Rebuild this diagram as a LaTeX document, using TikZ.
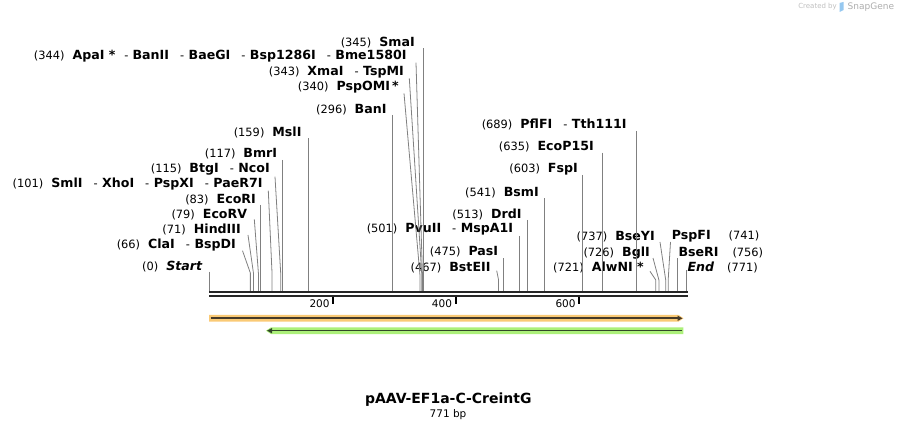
\documentclass[tikz,border=0pt]{standalone}
\usepackage{fontspec}
\setmainfont{DejaVu Sans}
\usetikzlibrary{arrows.meta}
\definecolor{siteg}{RGB}{128,128,128}
\definecolor{orgL}{RGB}{250,202,118}
\definecolor{orgD}{RGB}{70,58,40}
\definecolor{grnL}{RGB}{172,240,122}
\definecolor{grnD}{RGB}{50,72,40}
\definecolor{sgblue}{RGB}{150,200,240}
\newcommand\nm[1]{{\fontsize{12.6}{14}\selectfont\bfseries #1}}
\newcommand\nmi[1]{{\fontsize{12.6}{14}\selectfont\bfseries\itshape #1}}
\newcommand\gp{\hspace{8pt}}
\newcommand\ds{\hspace{11pt}-\hspace{4.5pt}}
\newcommand\bx[1]{209.5+0.619*#1}
\newcommand\vsite[3]{%
  \coordinate (s#1) at ({\bx{#2}},291);
  \coordinate (t#1) at ([yshift=-#3pt]#1.east);
  \draw[site] (t#1 -| s#1) -- (s#1);}
\newcommand\vsiteR[3]{%
  \coordinate (s#1) at ({\bx{#2}},291);
  \coordinate (t#1) at ([yshift=-#3pt]#1.west);
  \draw[site] (t#1 -| s#1) -- (s#1);}
\newcommand\ssite[5]{%
  \coordinate (s#1) at ({\bx{#2}},291);
  \coordinate (k#1) at ({\bx{#2}},#5);
  \coordinate (t#1) at ([shift={(#3pt,-#4pt)}]#1.east);
  \draw[site] (t#1) -- (k#1) -- (s#1);}
\newcommand\ssiteR[5]{%
  \coordinate (s#1) at ({\bx{#2}},291);
  \coordinate (k#1) at ({\bx{#2}},#5);
  \coordinate (t#1) at ([shift={(#3pt,-#4pt)}]#1.west);
  \draw[site] (t#1) -- (k#1) -- (s#1);}
\begin{document}
\begin{tikzpicture}[x=1pt,y=-1pt,
  lbl/.style={inner sep=0pt, font=\fontsize{11.4}{13}\selectfont, text=black},
  lblE/.style={lbl, anchor=east},
  lblW/.style={lbl, anchor=west},
  site/.style={draw=siteg, line width=0.8pt},
  bb/.style={draw=black!85, line width=2.4pt},
  tick/.style={draw=black, line width=2pt},
  ticklbl/.style={inner sep=0pt, anchor=east, font=\fontsize{10.5}{12}\selectfont}]
\useasboundingbox (0,0) rectangle (897,430);

% watermark
\node[inner sep=0pt, anchor=east, text=black!25, font=\fontsize{7}{8}\selectfont] (cb) at (837,7) {Created by};
\fill[sgblue] (839.5,3) -- (843.5,2) -- (843.5,10) -- (839.5,12) -- cycle;
\node[inner sep=0pt, anchor=west, text=black!32, font=\fontsize{9}{10}\selectfont] (sg) at (847.5,7) {SnapGene};

% left cluster
\node[lblE] (L0)   at (202.3,266.7) {(0)\gp\nmi{Start}};
\node[lblE] (L66)  at (236,245)     {(66)\gp\nm{ClaI}\ds\nm{BspDI}};
\node[lblE] (L71)  at (241,229)     {(71)\gp\nm{HindIII}};
\node[lblE] (L79)  at (247.3,214.3) {(79)\gp\nm{EcoRV}};
\node[lblE] (L83)  at (256,199.3)   {(83)\gp\nm{EcoRI}};
\node[lblE] (L101) at (262.7,184)   {(101)\gp\nm{SmlI}\ds\nm{XhoI}\ds\nm{PspXI}\ds\nm{PaeR7I}};
\node[lblE] (L115) at (270,169.3)   {(115)\gp\nm{BtgI}\ds\nm{NcoI}};
\node[lblE] (L117) at (277.3,153.3) {(117)\gp\nm{BmrI}};
\node[lblE] (L159) at (301.7,132.7) {(159)\gp\nm{MslI}};

% middle cluster
\node[lblE] (L296) at (386.7,109.3) {(296)\gp\nm{BanI}};
\node[lblE] (L340) at (399,87.3)    {(340)\gp\nm{PspOMI\,*}};
\node[lblE] (L343) at (404,72.3)    {(343)\gp\nm{XmaI}\ds\nm{TspMI}};
\node[lblE] (L344) at (406.7,56)    {(344)\gp\nm{ApaI *}\hspace{9pt}-\hspace{4pt}\nm{BanII}\ds\nm{BaeGI}\ds\nm{Bsp1286I}\ds\nm{Bme1580I}};
\node[lblE] (L345) at (415,42.3)    {(345)\gp\nm{SmaI}};

% right cluster
\node[lblE] (L467) at (490.7,267.3) {(467)\gp\nm{BstEII}};
\node[lblE] (L475) at (498.3,251.7) {(475)\gp\nm{PasI}};
\node[lblE] (L501) at (513.3,229.3) {(501)\gp\nm{PvuII}\ds\nm{MspA1I}};
\node[lblE] (L513) at (521.7,214)   {(513)\gp\nm{DrdI}};
\node[lblE] (L541) at (539,192.3)   {(541)\gp\nm{BsmI}};
\node[lblE] (L603) at (578,169)     {(603)\gp\nm{FspI}};
\node[lblE] (L635) at (594,146.7)   {(635)\gp\nm{EcoP15I}};
\node[lblE] (L689) at (626.7,124)   {(689)\gp\nm{PflFI}\ds\nm{Tth111I}};
\node[lblE] (L721) at (644,267.7)   {(721)\gp\nm{AlwNI *}};
\node[lblE] (L726) at (650,252.7)   {(726)\gp\nm{BglI}};
\node[lblE] (L737) at (655,236.7)   {(737)\gp\nm{BseYI}};
\node[lblW] (R741) at (671.7,236.7) {\nm{PspFI}\hspace{18pt}(741)};
\node[lblW] (R756) at (678.3,252.7) {\nm{BseRI}\hspace{14pt}(756)};
\node[lblW] (R771) at (687.3,267.7) {\nmi{End}\hspace{13pt}(771)};

% site lines
\vsite{L0}{0}{5}
\ssite{L66}{66}{6.5}{5.7}{273}
\ssite{L71}{71}{7}{6}{273}
\ssite{L79}{79}{7}{5}{273}
\vsite{L83}{83}{5.7}
\ssite{L101}{101}{5.6}{6.7}{273}
\ssite{L115}{115}{5}{7.4}{273}
\vsite{L117}{117}{6.7}
\vsite{L159}{159}{5.6}
\vsite{L296}{296}{5.7}
\ssite{L340}{340}{5}{6}{275}
\ssite{L343}{343}{5.3}{6}{275}
\ssite{L344}{344}{9.3}{6.7}{275}
\vsite{L345}{345}{6}
\ssite{L467}{467}{6}{3.4}{280}
\vsite{L475}{475}{6.6}
\vsite{L501}{501}{6.7}
\vsite{L513}{513}{6}
\vsite{L541}{541}{6}
\vsite{L603}{603}{6}
\vsite{L635}{635}{6}
\vsite{L689}{689}{7}
\ssite{L721}{721}{6}{3.6}{280}
\ssite{L726}{726}{3}{5.3}{280}
\ssite{L737}{737}{5}{5.3}{280}
\ssiteR{R741}{741}{-1.2}{5.3}{280}
\vsiteR{R756}{756}{5.6}
\vsiteR{R771}{771}{2.5}

% backbone
\coordinate (b0) at (209,292.2);
\coordinate (b1) at (687.5,292.2);
\coordinate (c0) at (209,296.2);
\coordinate (c1) at (687.5,296.2);
\draw[bb] (b0) -- (b1);
\draw[bb] (c0) -- (c1);

% ticks
\foreach \tx/\tl in {333.3/200,455.7/400,579.3/600}{
  \draw[tick] (\tx,297) -- (\tx,304.3);
  \node[ticklbl] (tk\tl) at (\tx-3.5,303.8) {\tl};
}

% features
\coordinate (f1a) at (209,318.3);
\coordinate (f1b) at (683.5,318.3);
\fill[orgL] (f1a) ++(0,-3.4) -- (678.5,314.9) -- (683.5,318.3) -- (678.5,321.7) -- (209,321.7) -- cycle;
\draw[orgD, line width=1.6pt, -{Triangle[length=5pt,width=5pt]}] (210.5,318.3) -- (682.5,318.3);

\coordinate (f2a) at (683.3,330.7);
\coordinate (f2b) at (266,330.7);
\fill[grnL] (683.3,327.3) -- (271,327.3) -- (266,330.7) -- (271,334.1) -- (683.3,334.1) -- cycle;
\draw[grnD, line width=1.6pt, -{Triangle[length=5pt,width=5pt]}] (682,330.7) -- (267,330.7);

% title
\node[inner sep=0pt, font=\fontsize{14}{16}\selectfont\bfseries] (title) at (448.3,399.3) {pAAV-EF1a-C-CreintG};
\node[inner sep=0pt, font=\fontsize{10.5}{12}\selectfont] (bp) at (448,414.3) {771 bp};
\end{tikzpicture}
\end{document}
